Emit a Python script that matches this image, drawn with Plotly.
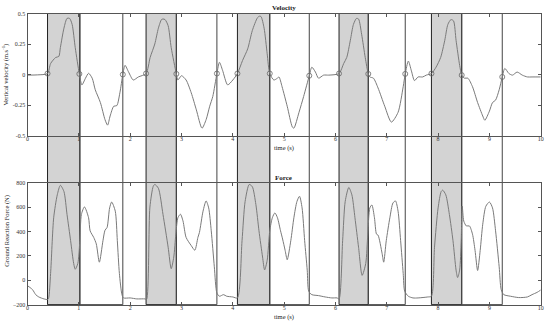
import plotly.graph_objects as go

# ---------------- data ----------------
vel_t = [0, 0.2, 0.39, 0.45, 0.55, 0.61, 0.64, 0.71, 0.77, 0.82, 0.87, 0.93, 1.01,
         1.06, 1.13, 1.19, 1.26, 1.32, 1.42, 1.51, 1.56, 1.61, 1.68, 1.74, 1.80, 1.857,
         1.90, 1.97, 2.06, 2.16, 2.31, 2.39, 2.48, 2.55, 2.61, 2.64, 2.68, 2.74, 2.80, 2.90,
         2.93, 3.0, 3.09, 3.19, 3.29, 3.40, 3.48, 3.55, 3.61, 3.69, 3.74, 3.80, 3.90, 4.0,
         4.09, 4.19, 4.29, 4.38, 4.48, 4.52, 4.55, 4.61, 4.67, 4.72, 4.80, 4.87, 4.90, 4.96,
         5.06, 5.16, 5.19, 5.29, 5.38, 5.49, 5.54, 5.61, 5.67, 5.77, 5.87, 6.07, 6.16, 6.22,
         6.29, 6.35, 6.41, 6.45, 6.51, 6.58, 6.64, 6.67, 6.74, 6.83, 6.96, 7.09, 7.22, 7.32,
         7.36, 7.42, 7.48, 7.54, 7.61, 7.70, 7.77, 7.87, 7.96, 8.05, 8.13, 8.19, 8.25, 8.30,
         8.35, 8.42, 8.46, 8.51, 8.58, 8.67, 8.77, 8.87, 8.91, 9.00, 9.06, 9.12, 9.19, 9.25,
         9.30, 9.38, 9.45, 9.54, 9.64, 9.74, 9.83, 10.0]
vel_v = [-0.005, -0.003, 0.008, 0.09, 0.14, 0.148, 0.22, 0.38, 0.46, 0.46, 0.41, 0.22, 0.005,
         -0.085, -0.03, 0.01, -0.03, -0.125, -0.23, -0.37, -0.415, -0.34, -0.26, -0.255, -0.15, 0.0,
         0.075, 0.02, -0.045, -0.02, 0.008, 0.14, 0.25, 0.38, 0.45, 0.455, 0.45, 0.40, 0.22, 0.005,
         -0.045, -0.01, -0.045, -0.15, -0.29, -0.44, -0.37, -0.26, -0.18, 0.008, 0.10, 0.035, -0.085, -0.045,
         0.008, 0.115, 0.21, 0.36, 0.465, 0.478, 0.475, 0.38, 0.17, 0.008, -0.045, -0.03, -0.02, -0.10,
         -0.26, -0.43, -0.44, -0.31, -0.18, -0.01, 0.06, 0.02, -0.03, -0.005, -0.005, 0.008, 0.09, 0.14,
         0.28, 0.41, 0.46, 0.455, 0.33, 0.14, 0.005, -0.02, -0.03, -0.11, -0.26, -0.39, -0.31, -0.10,
         0.005, 0.11, 0.03, -0.05, -0.02, -0.02, -0.005, 0.008, 0.06, 0.14, 0.28, 0.41, 0.45, 0.44,
         0.28, 0.075, -0.005, -0.03, -0.03, -0.10, -0.23, -0.34, -0.375, -0.30, -0.23, -0.21, -0.125, -0.02,
         0.05, 0.008, -0.005, 0.02, -0.005, -0.02, -0.02, -0.02]

event_t = [0.39, 1.01, 1.857, 2.31, 2.90, 3.69, 4.09, 4.72, 5.49, 6.07, 6.64, 7.36, 7.87, 8.46, 9.25]
event_v = [0.008, 0.005, 0.0, 0.008, 0.005, 0.008, 0.008, 0.008, -0.01, 0.008, 0.005, 0.005, 0.008, -0.005, -0.02]

force_t = [0, 0.05, 0.10, 0.16, 0.22, 0.32, 0.39, 0.41, 0.45, 0.51, 0.58, 0.64, 0.71, 0.77, 0.84,
           0.90, 0.93, 0.98, 1.02, 1.05, 1.11, 1.19, 1.22, 1.29, 1.34, 1.40, 1.47, 1.51, 1.55,
           1.60, 1.64, 1.71, 1.75, 1.79, 1.84, 1.87, 2.0, 2.13, 2.29, 2.32, 2.385, 2.45, 2.48,
           2.55, 2.64, 2.74, 2.80, 2.85, 2.89, 2.93, 2.98, 3.03, 3.09, 3.19, 3.26, 3.32, 3.35,
           3.42, 3.48, 3.53, 3.58, 3.64, 3.69, 3.74, 3.82, 3.88, 4.0, 4.09, 4.18, 4.24, 4.32,
           4.38, 4.45, 4.51, 4.58, 4.62, 4.67, 4.72, 4.77, 4.82, 4.87, 4.93, 4.97, 5.02, 5.06,
           5.13, 5.19, 5.25, 5.30, 5.35, 5.40, 5.45, 5.48, 5.54, 5.67, 5.80, 5.93, 6.03, 6.07,
           6.14, 6.19, 6.26, 6.32, 6.38, 6.45, 6.52, 6.59, 6.63, 6.67, 6.71, 6.76, 6.80, 6.83,
           6.91, 6.94, 6.99, 7.06, 7.12, 7.17, 7.22, 7.27, 7.32, 7.35, 7.42, 7.51, 7.61, 7.80,
           7.87, 7.93, 8.0, 8.06, 8.09, 8.15, 8.22, 8.29, 8.35, 8.38, 8.42, 8.45, 8.47, 8.50,
           8.55, 8.61, 8.67, 8.72, 8.77, 8.82, 8.87, 8.93, 9.0, 9.06, 9.12, 9.19, 9.23, 9.28,
           9.41, 9.57, 9.74, 9.83, 9.93, 10.0]
force_v = [-45, -60, -78, -118, -137, -153, -158, -150, 56, 512, 700, 778, 727, 539, 324,
           137, 90, 137, 324, 539, 601, 512, 405, 351, 298, 148, 324, 410, 432,
           593, 641, 566, 324, 56, -118, -145, -145, -153, -153, -158, 600, 770, 785,
           754, 539, 271, 95, 190, 378, 512, 541, 485, 351, 284, 246, 351, 392,
           566, 650, 593, 405, 110, -105, -131, -118, -131, -137, -145, 324, 646, 785,
           767, 620, 405, 190, 85, 163, 405, 512, 552, 512, 405, 338, 244, 168,
           324, 512, 646, 688, 593, 324, 83, -91, -118, -126, -137, -145, -145, -153,
           324, 646, 760, 700, 512, 271, 40, 137, 378, 593, 617, 512, 378, 370,
           217, 148, 324, 512, 633, 650, 566, 324, 56, -91, -131, -145, -145, -137,
           -131, 271, 593, 727, 738, 700, 539, 324, 83, 22, 83, 324, 608, 485,
           445, 445, 378, 244, 80, 244, 459, 606, 641, 593, 405, 110, -78, -118,
           -131, -142, -137, -118, -99, -80]

stance_start = [0.39, 2.31, 4.09, 6.07, 7.87]
stance_end = [1.02, 2.90, 4.72, 6.64, 8.46]
swing_end = [1.857, 3.69, 5.49, 7.36, 9.25]

vel_ticks = [-0.5, -0.25, 0, 0.25, 0.5]
vel_ticklabels = ["-0.5", "-0.25", "0", "0.25", "0.5"]
force_ticks = [-200, 0, 200, 400, 600, 800]
time_ticks = list(range(0, 11))

assert len(vel_t) == len(vel_v)
assert len(force_t) == len(force_v)

# ---------------- figure ----------------
W, H = 550, 326
FONT = "Liberation Serif"
line_col = "#7a7a7a"

fig = go.Figure()
fig.add_trace(go.Scatter(x=vel_t, y=vel_v, mode="lines",
                         line=dict(color=line_col, width=1, shape="spline", smoothing=0.7),
                         xaxis="x", yaxis="y", showlegend=False))
fig.add_trace(go.Scatter(x=event_t, y=event_v, mode="markers",
                         marker=dict(symbol="circle-open", size=5, color="#666", line=dict(width=0.8)),
                         xaxis="x", yaxis="y", showlegend=False))
fig.add_trace(go.Scatter(x=force_t, y=force_v, mode="lines",
                         line=dict(color=line_col, width=1, shape="spline", smoothing=0.7),
                         xaxis="x2", yaxis="y2", showlegend=False))

xdom = [26.7 / W, 543.7 / W]
ydom_top = [(H - 135) / H, (H - 10.7) / H]
ydom_bot = [(H - 307.3) / H, (H - 183) / H]

axis_common = dict(showline=True, linecolor="#555", linewidth=1, mirror="ticks",
                   ticks="inside", ticklen=3, tickcolor="#555", showgrid=False, zeroline=False,
                   ticklabeloverflow="allow",
                   tickfont=dict(family=FONT, size=6, color="#333"))

fig.update_layout(
    width=W, height=H,
    margin=dict(l=0, r=0, t=0, b=0),
    paper_bgcolor="white", plot_bgcolor="rgba(0,0,0,0)",
    xaxis=dict(domain=xdom, range=[0, 10], tickvals=time_ticks, anchor="y",
               ticklabelstandoff=-3, **axis_common),
    yaxis=dict(domain=ydom_top, range=[-0.5, 0.5], tickvals=vel_ticks, ticktext=vel_ticklabels,
               anchor="x", **axis_common),
    xaxis2=dict(domain=xdom, range=[0, 10], tickvals=time_ticks, anchor="y2",
                ticklabelstandoff=-3, **axis_common),
    yaxis2=dict(domain=ydom_bot, range=[-200, 800], tickvals=force_ticks, anchor="x2", **axis_common),
)

shapes = []
for s, e in zip(stance_start, stance_end):
    shapes.append(dict(type="rect", xref="x", yref="paper", x0=s, x1=e,
                       y0=ydom_bot[0], y1=ydom_top[1], fillcolor="#d3d3d3",
                       line=dict(color="#222", width=1), layer="below"))
for s, e in zip(stance_end, swing_end):
    shapes.append(dict(type="rect", xref="x", yref="paper", x0=s, x1=e,
                       y0=ydom_bot[0], y1=ydom_top[1], fillcolor="rgba(0,0,0,0)",
                       line=dict(color="#444", width=1), layer="below"))
fig.update_layout(shapes=shapes)

ann = [
    dict(text="<b>Velocity</b>", x=285 / W, y=(H - 5) / H, font=dict(size=7)),
    dict(text="<b>Force</b>", x=285 / W, y=(H - 178) / H, font=dict(size=7)),
    dict(text="time (s)", x=285 / W, y=(H - 147.5) / H, font=dict(size=6.5)),
    dict(text="time (s)", x=285 / W, y=(H - 319.5) / H, font=dict(size=6.5)),
    dict(text="Vertical velocity (m.s<sup>-1</sup>)", x=5 / W, y=(H - 73) / H,
         textangle=-90, font=dict(size=6.5)),
    dict(text="Ground Reaction Force (N)", x=6 / W, y=(H - 232) / H,
         textangle=-90, font=dict(size=6.5)),
]
for a in ann:
    a.update(xref="paper", yref="paper", showarrow=False, xanchor="center", yanchor="middle")
    a["font"].update(family=FONT, color="#222")
fig.update_layout(annotations=ann)

fig.write_html("out.html", config={"displayModeBar": False},
               post_script="document.body.style.margin='0';")
